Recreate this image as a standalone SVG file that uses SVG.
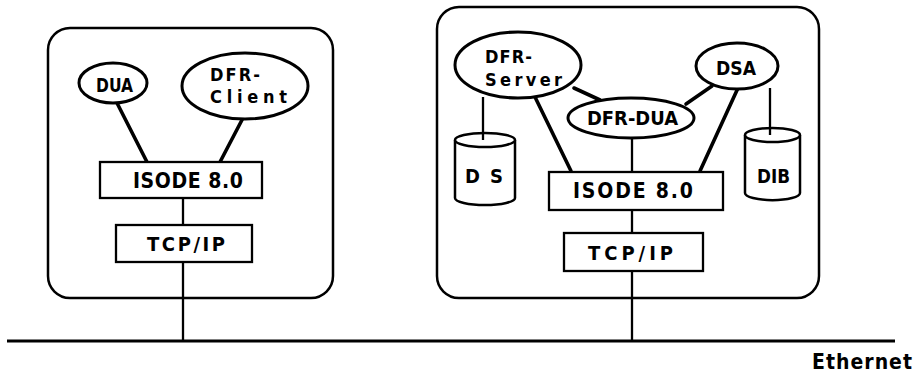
<svg xmlns="http://www.w3.org/2000/svg" width="920" height="374" viewBox="0 0 920 374">
<style>
.host{fill:none;stroke:#000;stroke-width:2.5}
.ell{fill:#fff;stroke:#000;stroke-width:3}
.box{fill:#fff;stroke:#000;stroke-width:2.3}
.cyl{fill:#fff;stroke:#000;stroke-width:2.5}
.thick{stroke:#000;stroke-width:3.6;fill:none;stroke-linecap:round}
.thin{stroke:#000;stroke-width:2.3;fill:none}
.net{stroke:#000;stroke-width:3.2}
text{font-family:"Liberation Sans Narrow","DejaVu Sans Condensed","Liberation Sans",sans-serif;font-weight:bold;font-size:20px;fill:#000}
.big{font-size:21px}
.two{font-size:18px}
</style>
<rect width="920" height="374" fill="#fff"/>
<g id="host-client">
  <rect class="host" x="48" y="28" width="285" height="270" rx="22"/>
</g>
<g id="host-server">
  <rect class="host" x="437" y="7" width="382" height="291" rx="22"/>
</g>
<g id="connectors">
  <line class="thick" x1="117" y1="103" x2="147" y2="162"/>
  <line class="thick" x1="243" y1="118" x2="220" y2="162"/>
  <line class="thin" x1="183" y1="198" x2="183" y2="225"/>
  <line class="thin" x1="183" y1="262" x2="183" y2="341"/>
  <line class="thin" x1="483" y1="97" x2="483" y2="140"/>
  <line class="thick" x1="535" y1="97" x2="571" y2="171"/>
  <line class="thick" x1="574" y1="88" x2="600" y2="100"/>
  <line class="thick" x1="712" y1="86" x2="686" y2="104"/>
  <line class="thick" x1="738" y1="88" x2="700" y2="171"/>
  <line class="thin" x1="770" y1="88" x2="770" y2="135"/>
  <line class="thin" x1="632" y1="138" x2="632" y2="172"/>
  <line class="thin" x1="632" y1="210" x2="632" y2="233"/>
  <line class="thin" x1="632" y1="271" x2="632" y2="341"/>
</g>
<g id="ethernet">
  <line class="net" x1="7" y1="341" x2="895" y2="341"/>
  <text class="big" x="812" y="369" textLength="100" lengthAdjust="spacing">Ethernet</text>
</g>
<g id="dua">
  <ellipse class="ell" cx="113" cy="83" rx="34" ry="20"/>
  <text x="96" y="92" textLength="37" lengthAdjust="spacingAndGlyphs">DUA</text>
</g>
<g id="dfr-client">
  <ellipse class="ell" cx="245" cy="86" rx="63" ry="33"/>
  <text class="two" x="210" y="81" textLength="50" lengthAdjust="spacing">DFR-</text>
  <text class="two" x="210" y="103" textLength="77" lengthAdjust="spacing">Client</text>
</g>
<g id="isode-client">
  <rect class="box" x="100" y="162" width="162" height="36"/>
  <text class="big" x="133" y="188" textLength="110" lengthAdjust="spacing">ISODE 8.0</text>
</g>
<g id="tcpip-client">
  <rect class="box" x="116" y="225" width="136" height="37"/>
  <text x="147" y="251" textLength="78" lengthAdjust="spacing">TCP/IP</text>
</g>
<g id="dfr-server">
  <ellipse class="ell" cx="518" cy="65" rx="63" ry="33"/>
  <text class="two" x="485" y="63" textLength="47" lengthAdjust="spacing">DFR-</text>
  <text class="two" x="485" y="86" textLength="77" lengthAdjust="spacing">Server</text>
</g>
<g id="dsa">
  <ellipse class="ell" cx="737" cy="66" rx="41" ry="23"/>
  <text x="716" y="75" textLength="40" lengthAdjust="spacingAndGlyphs">DSA</text>
</g>
<g id="dfr-dua">
  <ellipse class="ell" cx="631" cy="118" rx="63" ry="20"/>
  <text x="587" y="125" textLength="91" lengthAdjust="spacingAndGlyphs">DFR-DUA</text>
</g>
<g id="ds">
  <path class="cyl" d="M455,140 V198 A30,7 0 0 0 515,198 V140"/>
  <ellipse class="cyl" cx="485" cy="140" rx="30" ry="7"/>
  <line class="thin" x1="483" y1="133" x2="483" y2="140"/>
  <text x="465" y="183" textLength="38" lengthAdjust="spacing">D S</text>
</g>
<g id="dib">
  <path class="cyl" d="M745,135 V193 A27,7 0 0 0 800,193 V135"/>
  <ellipse class="cyl" cx="772.5" cy="135" rx="27.5" ry="7"/>
  <line class="thin" x1="770" y1="128" x2="770" y2="135"/>
  <text x="757" y="183" textLength="33" lengthAdjust="spacingAndGlyphs">DIB</text>
</g>
<g id="isode-server">
  <rect class="box" x="549" y="172" width="174" height="38"/>
  <text class="big" x="573" y="198" textLength="120" lengthAdjust="spacing">ISODE 8.0</text>
</g>
<g id="tcpip-server">
  <rect class="box" x="564" y="233" width="139" height="38"/>
  <text x="588" y="260" textLength="85" lengthAdjust="spacing">TCP/IP</text>
</g>
</svg>
